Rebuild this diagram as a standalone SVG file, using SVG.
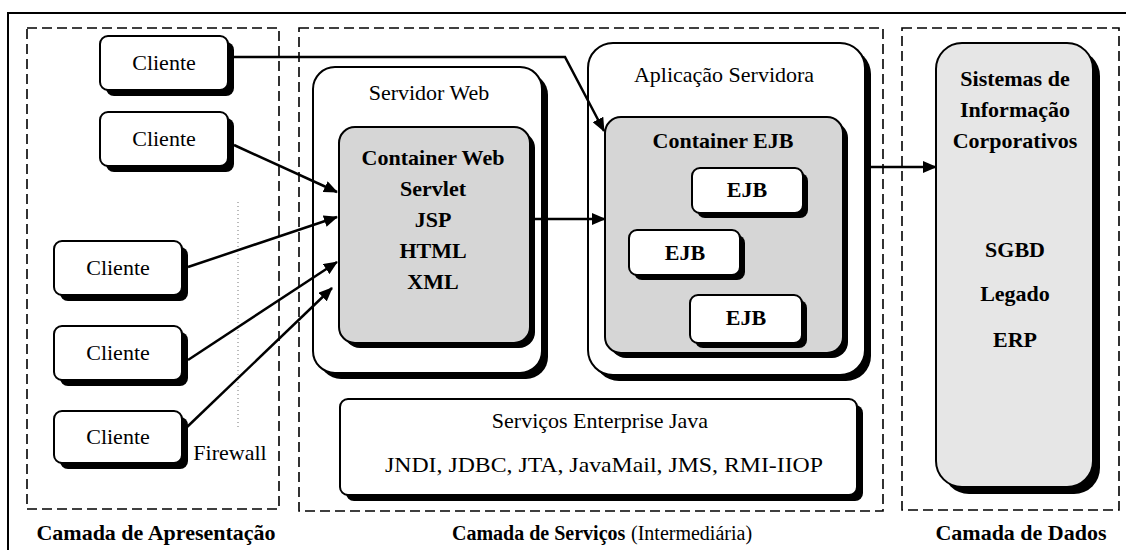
<svg xmlns="http://www.w3.org/2000/svg" width="1126" height="550" viewBox="0 0 1126 550" font-family="'Liberation Serif', 'Times New Roman', Tinos, serif">
<defs>
<marker id="ah" markerWidth="14" markerHeight="12" refX="13" refY="6" orient="auto" markerUnits="userSpaceOnUse">
<path d="M0,0 L14,6 L0,12 Z" fill="#000"/>
</marker>
</defs>
<style>
.frame{fill:none;stroke:#000;stroke-width:2}
.dash{fill:none;stroke:#000;stroke-width:1.6;stroke-dasharray:10 5}
.fw{fill:none;stroke:#777;stroke-width:1;stroke-dasharray:1 3}
.box{fill:#fff;stroke:#000;stroke-width:2}
.gbox{fill:#d6d6d6;stroke:#000;stroke-width:2}
.lbox{fill:#e6e6e6;stroke:#000;stroke-width:2}
.sh{fill:#000}
text{font-family:'Liberation Serif','Times New Roman',Tinos,serif}
.t{font-size:22px;fill:#000;text-anchor:middle}
.s{font-size:20px;fill:#000;text-anchor:start}
.b{font-weight:bold}
.conn{fill:none;stroke:#000;stroke-width:2.5;marker-end:url(#ah)}
</style>
<rect width="1126" height="550" fill="#fff"/>
<path class="frame" d="M8,550 V13 H1126"/>

<g id="camada-apresentacao">
<rect class="dash" x="27" y="28" width="252" height="481"/>
<line class="fw" x1="238" y1="202" x2="238" y2="430"/>
<text class="t" x="230" y="460">Firewall</text>
<text class="t b" x="156" y="540">Camada de Apresentação</text>
</g>

<g id="camada-servicos">
<rect class="dash" x="299" y="28" width="584" height="483"/>
<text class="s b" x="452" y="540">Camada de Serviços</text>
<text class="s" x="631" y="540">(Intermediária)</text>
</g>

<g id="camada-dados">
<rect class="dash" x="902" y="28" width="217" height="482"/>
<text class="t b" x="1021" y="540">Camada de Dados</text>
</g>

<g id="cliente1">
<rect class="sh" x="106" y="42" width="128" height="54" rx="8"/>
<rect class="box" x="100" y="36" width="128" height="54" rx="8"/>
<text class="t" x="164" y="70">Cliente</text>
</g>
<g id="cliente2">
<rect class="sh" x="106" y="118" width="128" height="54" rx="8"/>
<rect class="box" x="100" y="112" width="128" height="54" rx="8"/>
<text class="t" x="164" y="146">Cliente</text>
</g>
<g id="cliente3">
<rect class="sh" x="60" y="247" width="128" height="54" rx="8"/>
<rect class="box" x="54" y="241" width="128" height="54" rx="8"/>
<text class="t" x="118" y="275">Cliente</text>
</g>
<g id="cliente4">
<rect class="sh" x="60" y="332" width="128" height="54" rx="8"/>
<rect class="box" x="54" y="326" width="128" height="54" rx="8"/>
<text class="t" x="118" y="360">Cliente</text>
</g>
<g id="cliente5">
<rect class="sh" x="60" y="417" width="128" height="52" rx="8"/>
<rect class="box" x="54" y="411" width="128" height="52" rx="8"/>
<text class="t" x="118" y="444">Cliente</text>
</g>

<g id="servidor-web">
<rect class="sh" x="319" y="73" width="229" height="306" rx="22"/>
<rect class="box" x="313" y="67" width="229" height="306" rx="22"/>
<text class="t" x="429" y="100">Servidor Web</text>
</g>
<g id="container-web">
<rect class="sh" x="344" y="132" width="191" height="216" rx="16"/>
<rect class="gbox" x="339" y="127" width="191" height="216" rx="16"/>
<text class="t b" x="433" y="165" font-size="21">Container Web</text>
<text class="t b" x="433" y="196">Servlet</text>
<text class="t b" x="433" y="227">JSP</text>
<text class="t b" x="433" y="258">HTML</text>
<text class="t b" x="433" y="289">XML</text>
</g>

<g id="aplicacao-servidora">
<rect class="sh" x="594" y="49" width="277" height="332" rx="25"/>
<rect class="box" x="588" y="43" width="277" height="332" rx="25"/>
<text class="t" x="724" y="82" font-size="23">Aplicação Servidora</text>
</g>
<g id="container-ejb">
<rect class="sh" x="610" y="122" width="238" height="236" rx="16"/>
<rect class="gbox" x="605" y="117" width="238" height="236" rx="16"/>
<text class="t b" x="723" y="148" font-size="21">Container EJB</text>
</g>
<g id="ejb1">
<rect class="sh" x="697" y="173" width="111" height="45" rx="8"/>
<rect class="box" x="692" y="168" width="111" height="45" rx="8"/>
<text class="t b" x="747" y="197">EJB</text>
</g>
<g id="ejb2">
<rect class="sh" x="634" y="235" width="111" height="45" rx="8"/>
<rect class="box" x="629" y="230" width="111" height="45" rx="8"/>
<text class="t b" x="685" y="260">EJB</text>
</g>
<g id="ejb3">
<rect class="sh" x="695" y="300" width="112" height="48" rx="8"/>
<rect class="box" x="690" y="295" width="112" height="48" rx="8"/>
<text class="t b" x="746" y="325">EJB</text>
</g>

<g id="sistemas">
<rect class="sh" x="943" y="50" width="157" height="444" rx="26"/>
<rect class="lbox" x="936" y="43" width="157" height="444" rx="26"/>
<text class="t b" x="1015" y="86">Sistemas de</text>
<text class="t b" x="1015" y="117">Informação</text>
<text class="t b" x="1015" y="148">Corporativos</text>
<text class="t b" x="1015" y="257">SGBD</text>
<text class="t b" x="1015" y="301">Legado</text>
<text class="t b" x="1015" y="347">ERP</text>
</g>

<g id="servicos-enterprise">
<rect class="sh" x="346" y="405" width="517" height="96" rx="8"/>
<rect class="box" x="340" y="399" width="517" height="96" rx="8"/>
<text class="t" x="600" y="428" font-size="23">Serviços Enterprise Java</text>
<text class="t" x="604" y="472" font-size="23" textLength="438" lengthAdjust="spacingAndGlyphs">JNDI, JDBC, JTA, JavaMail, JMS, RMI-IIOP</text>
</g>

<g id="connectors">
<path class="conn" d="M234,57 H565 L604,131"/>
<path class="conn" d="M234,145 L337,192"/>
<path class="conn" d="M188,267 L337,217"/>
<path class="conn" d="M188,360 L337,262"/>
<path class="conn" d="M186,428 L332,288"/>
<path class="conn" d="M535,219 L605,219"/>
<path class="conn" d="M871,167 L936,167"/>
</g>
</svg>
